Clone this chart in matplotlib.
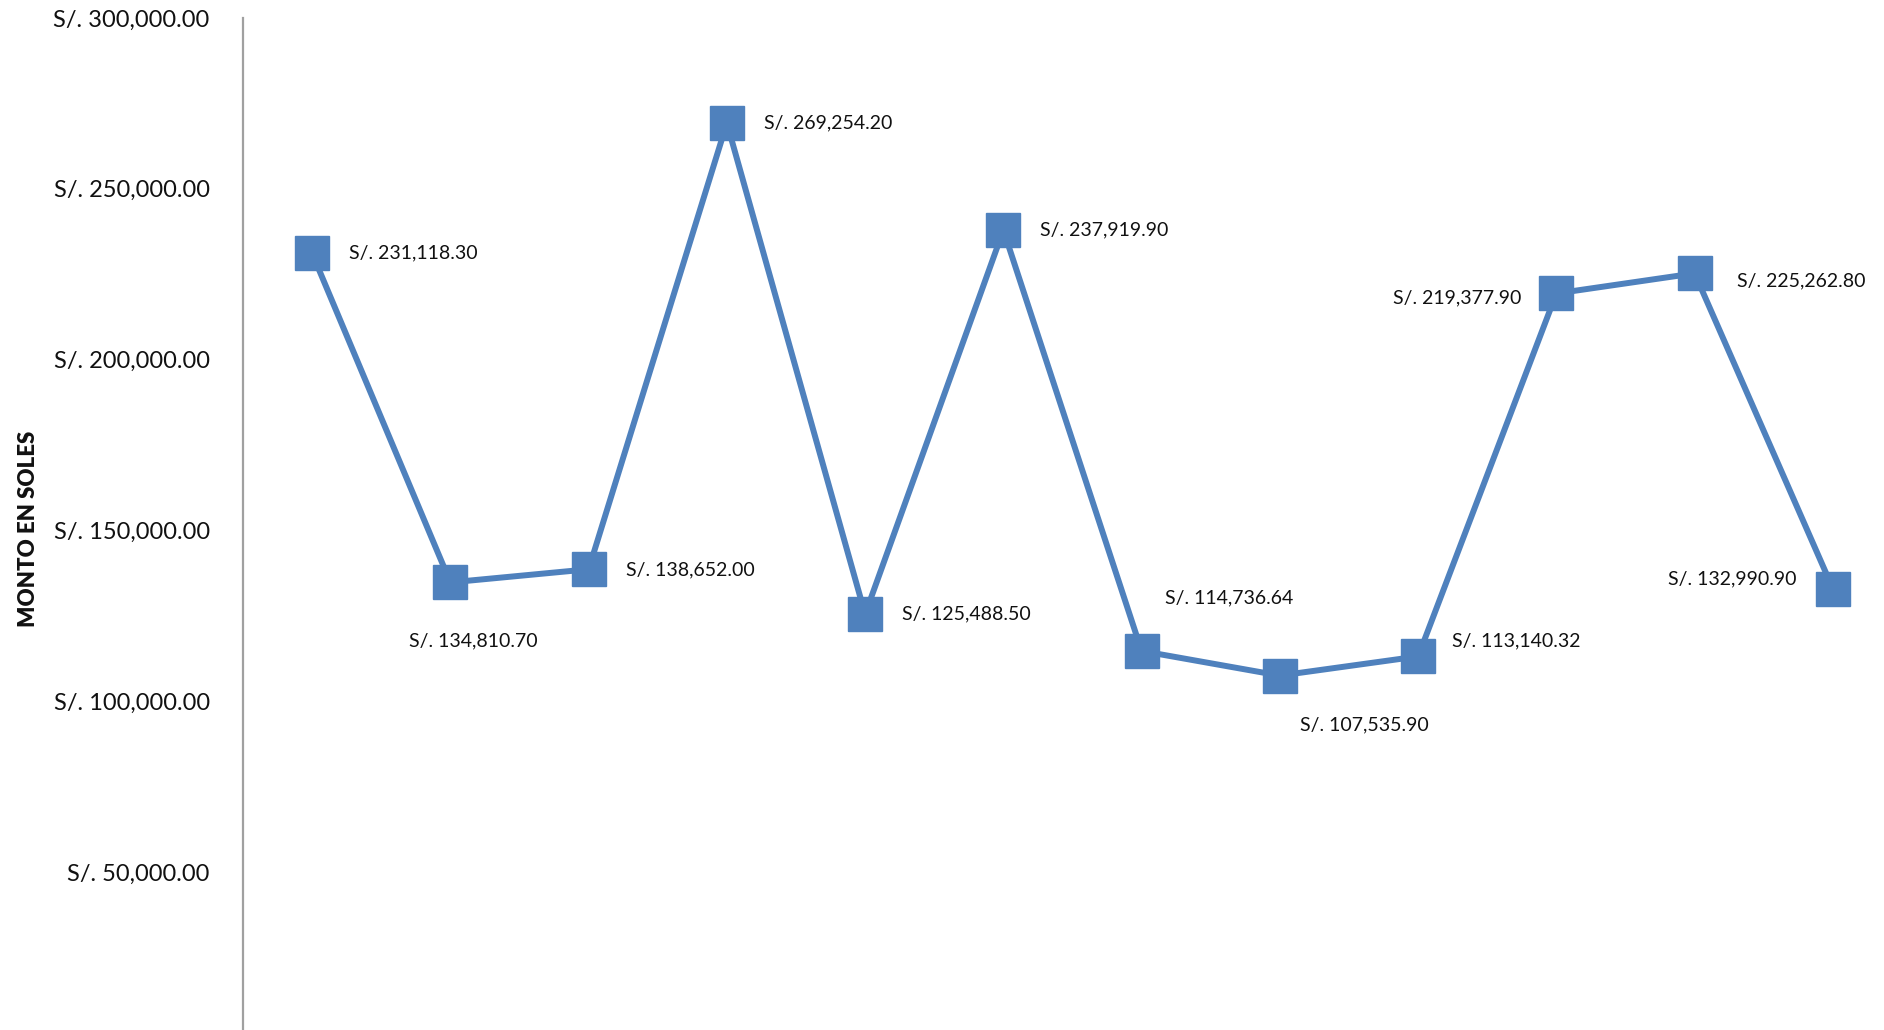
import matplotlib
matplotlib.use('Agg')
import matplotlib.pyplot as plt
from matplotlib.ticker import FuncFormatter

# montos por periodo (12 puntos)
periodos = list(range(12))
montos = [231118.30, 134810.70, 138652.00, 269254.20, 125488.50, 237919.90,
          114736.64, 107535.90, 113140.32, 219377.90, 225262.80, 132990.90]
etiquetas = ['S/. 231,118.30', 'S/. 134,810.70', 'S/. 138,652.00', 'S/. 269,254.20',
             'S/. 125,488.50', 'S/. 237,919.90', 'S/. 114,736.64', 'S/. 107,535.90',
             'S/. 113,140.32', 'S/. 219,377.90', 'S/. 225,262.80', 'S/. 132,990.90']
y_ticks = [50000, 100000, 150000, 200000, 250000, 300000]

# posicion de cada etiqueta (offset en pixeles, alineacion)
offs = [(37, 0, 'left'), (23, -58, 'center'), (37, -1, 'left'), (37, 0, 'left'),
        (37, 0, 'left'), (37, 0, 'left'), (23, 53, 'left'), (20, -49, 'left'),
        (34, 16, 'left'), (-35, -4, 'right'), (42, -8, 'left'), (-36, 10, 'right')]

plt.rcParams['font.family'] = ['Lato', 'DejaVu Sans']
azul = '#4F81BD'

fig = plt.figure(figsize=(18.84, 10.30), dpi=100)
ax = fig.add_axes([243 / 1884, -13 / 1030, 1659 / 1884, 1025 / 1030])

ax.plot(periodos, montos, color=azul, lw=4.3, marker='s', markersize=24,
        markerfacecolor=azul, markeredgecolor=azul, zorder=3)

for x, y, txt, (dx, dy, ha) in zip(periodos, montos, etiquetas, offs):
    ax.annotate(txt, (x, y), xytext=(dx, dy), textcoords='offset pixels',
                ha=ha, va='center', fontsize=14, color='#111111')

ax.set_xlim(-0.5, 11.5)
ax.set_ylim(0, 300000)
ax.set_yticks(y_ticks)
ax.yaxis.set_major_formatter(FuncFormatter(lambda v, p: 'S/. {:,.2f}'.format(v)))
ax.tick_params(axis='y', length=0, pad=24, labelsize=17, labelcolor='#111111')
ax.set_xticks([])

for s in ['top', 'right', 'bottom']:
    ax.spines[s].set_visible(False)
ax.spines['left'].set_color('#A0A0A0')
ax.spines['left'].set_linewidth(1.6)

fig.text(29 / 1884, 1 - 529 / 1030, 'MONTO EN SOLES', rotation=90, ha='center',
         va='center', fontsize=16, fontweight='heavy', color='#111111')

fig.savefig('out.png', dpi=100)
